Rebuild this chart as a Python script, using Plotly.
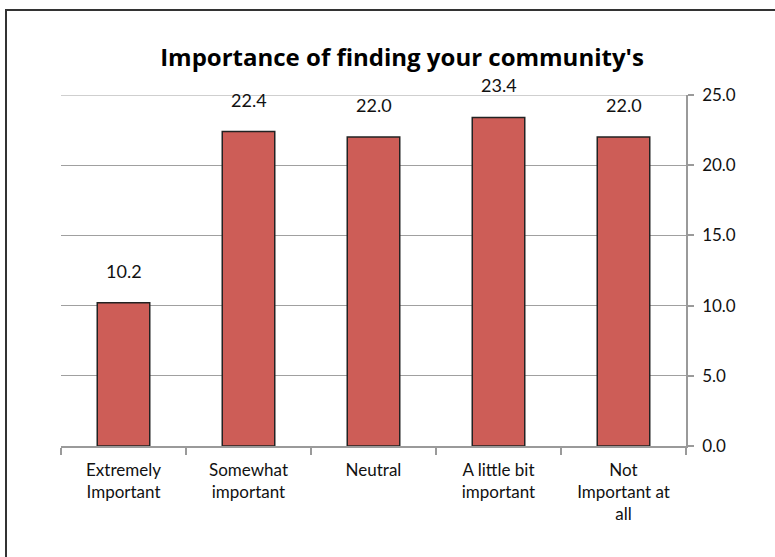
import plotly.graph_objects as go

categories = ["Extremely<br>Important", "Somewhat<br>important", "Neutral",
              "A little bit<br>important", "Not<br>Important at<br>all"]
values = [10.2, 22.4, 22.0, 23.4, 22.0]
y_ticks = [0, 5, 10, 15, 20, 25]
title_text = "Importance of finding your community's"

W, H = 775, 557
L, R, T, B = 61, 89, 95, 111
pw, ph = W - L - R, H - T - B

fig = go.Figure()
fig.add_trace(go.Bar(
    x=categories, y=values, width=0.42,
    marker=dict(color="#CD5D57", line=dict(color="#222", width=1.5)),
))

for c, v in zip(categories, values):
    fig.add_annotation(x=c, y=v, text=f"{v:.1f}", showarrow=False,
                       yanchor="bottom", yshift=19,
                       font=dict(family="Lato", size=18, color="#111"))

fig.update_layout(
    width=W, height=H,
    margin=dict(l=L, r=R, t=T, b=B, pad=0),
    paper_bgcolor="white", plot_bgcolor="white",
    showlegend=False,
    title=dict(text=f"<b>{title_text}</b>", x=(402) / W, xanchor="center",
               y=1 - 58 / H, yanchor="middle",
               font=dict(family="Open Sans", size=24, color="#000")),
    font=dict(family="Lato", size=17, color="#111"),
    xaxis=dict(
        showline=True, linecolor="#9a9a9a", linewidth=1.5,
        ticks="outside", ticklen=7, tickcolor="#9a9a9a", tickwidth=1.5,
        tickson="boundaries", showgrid=False,
        ticklabelstandoff=8,
        tickfont=dict(family="Lato", size=17, color="#111"),
    ),
    yaxis=dict(
        side="right", range=[0, 25], tickvals=y_ticks, tickformat=".1f",
        showline=True, linecolor="#9a9a9a", linewidth=1.5,
        ticks="outside", ticklen=6, tickcolor="#9a9a9a", tickwidth=1.5,
        showgrid=True, gridcolor="#a0a0a0", gridwidth=1,
        zeroline=False, ticklabelstandoff=5,
        tickfont=dict(family="Lato", size=17, color="#111"),
    ),
)

# Top gridline (at the highest tick, on the plot edge)
fig.add_shape(type="line", xref="paper", yref="y",
              x0=0, x1=1, y0=y_ticks[-1], y1=y_ticks[-1],
              line=dict(color="#a0a0a0", width=1), layer="below")

# Outer chart border
fig.add_shape(type="rect", xref="paper", yref="paper",
              x0=(6 - L) / pw, x1=(W + 20 - L) / pw,
              y0=-(B + 20) / ph, y1=(H - B - 10) / ph,
              line=dict(color="#333", width=2), layer="below")

fig.write_html("out.html", config={"displayModeBar": False},
               post_script="document.body.style.margin='0';")
